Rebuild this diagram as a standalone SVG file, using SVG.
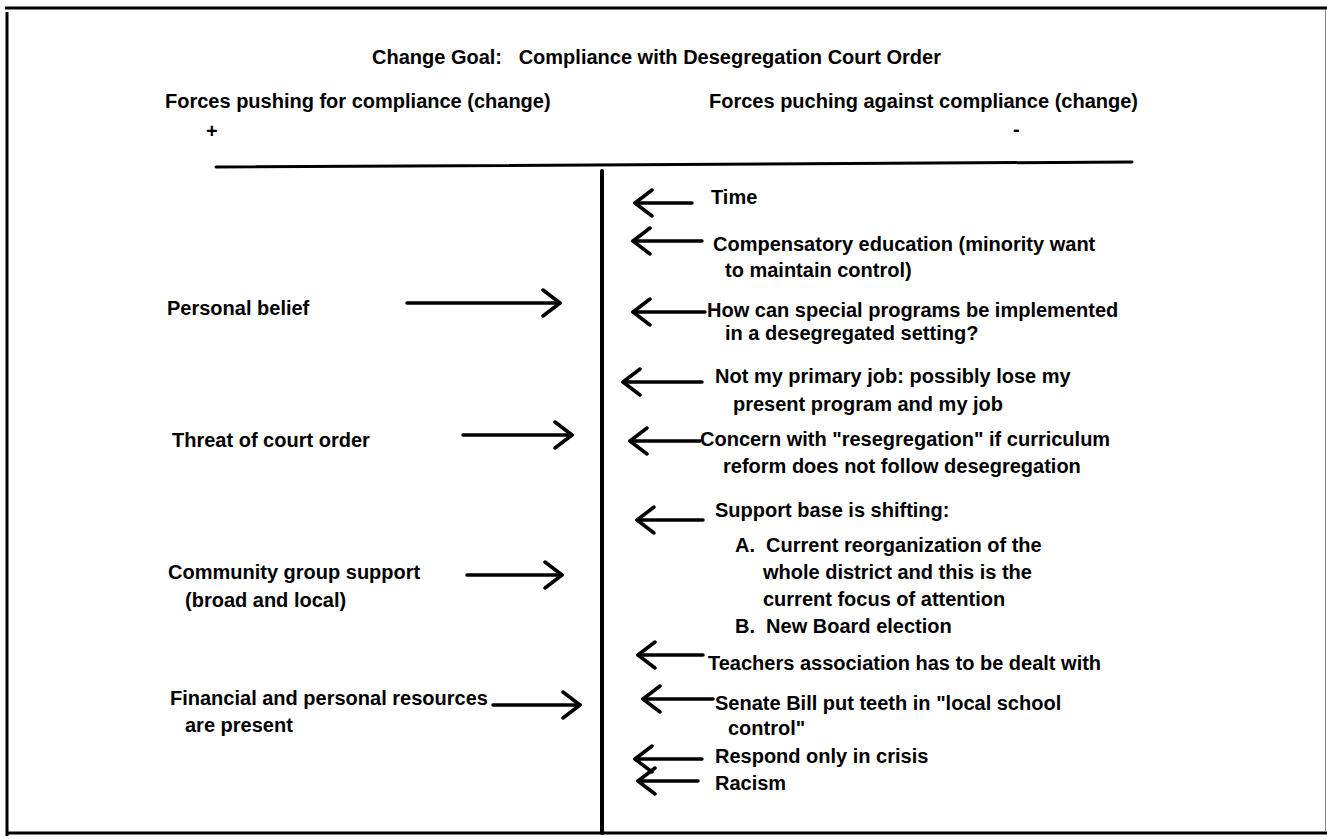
<svg xmlns="http://www.w3.org/2000/svg" width="1327" height="839" viewBox="0 0 1327 839">
<defs>
<style>
text{font-family:"Liberation Sans",Arial,sans-serif;font-weight:bold;font-size:20px;fill:#000;white-space:pre}
.hd{font-size:20px}
.frame{stroke:#000;stroke-width:3;fill:none}
.axis{stroke:#000;fill:none;stroke-linecap:round}
.arr{stroke:#000;stroke-width:3.5;fill:none;stroke-linecap:round;marker-end:url(#chev)}
</style>
<marker id="chev" viewBox="0 0 22 32" refX="20" refY="16" markerWidth="22" markerHeight="32" markerUnits="userSpaceOnUse" orient="auto">
<path d="M3,3 L20,16 L3,29" fill="none" stroke="#000" stroke-width="3.5" stroke-linecap="round" stroke-linejoin="round"/>
</marker>
</defs>
<rect width="1327" height="839" fill="#fff"/>
<g id="frame">
<line class="frame" x1="5" y1="8" x2="1327" y2="8"/>
<line class="frame" x1="7" y1="12" x2="7" y2="836"/>
<line class="frame" x1="7" y1="833" x2="1327" y2="833"/>
<line x1="1325.5" y1="10" x2="1325.5" y2="832" stroke="#888" stroke-width="1"/>
</g>
<g id="axes">
<line class="axis" x1="216" y1="167" x2="1132" y2="162" stroke-width="3"/>
<line class="axis" x1="602" y1="171" x2="602" y2="833" stroke-width="4"/>
</g>
<g id="title"><text x="372" y="64" xml:space="preserve">Change Goal:   Compliance with Desegregation Court Order</text></g>
<g id="header-for"><text class="hd" x="165" y="108">Forces pushing for compliance (change)</text><text x="206" y="138">+</text></g>
<g id="header-against"><text class="hd" x="709" y="108">Forces puching against compliance (change)</text><text x="1013" y="136">-</text></g>
<g id="f-personal"><text x="167" y="315">Personal belief</text></g>
<g id="f-threat"><text x="172" y="447">Threat of court order</text></g>
<g id="f-community"><text x="168" y="579">Community group support</text><text x="185" y="607">(broad and local)</text></g>
<g id="f-financial"><text x="170" y="705">Financial and personal resources</text><text x="185" y="732">are present</text></g>
<g id="a-time"><text x="711" y="204">Time</text></g>
<g id="a-comp"><text x="713" y="251">Compensatory education (minority want</text><text x="725" y="277">to maintain control)</text></g>
<g id="a-how"><text x="707" y="317">How can special programs be implemented</text><text x="725" y="340">in a desegregated setting?</text></g>
<g id="a-job"><text x="715" y="383">Not my primary job: possibly lose my</text><text x="733" y="411">present program and my job</text></g>
<g id="a-concern"><text x="700" y="446">Concern with "resegregation" if curriculum</text><text x="723" y="473">reform does not follow desegregation</text></g>
<g id="a-support"><text x="715" y="517">Support base is shifting:</text><text x="735" y="552" xml:space="preserve">A.  Current reorganization of the</text><text x="763" y="579">whole district and this is the</text><text x="763" y="606">current focus of attention</text><text x="735" y="633" xml:space="preserve">B.  New Board election</text></g>
<g id="a-teachers"><text x="708" y="670">Teachers association has to be dealt with</text></g>
<g id="a-senate"><text x="715" y="710">Senate Bill put teeth in "local school</text><text x="728" y="735">control"</text></g>
<g id="a-respond"><text x="715" y="763">Respond only in crisis</text></g>
<g id="a-racism"><text x="715" y="790">Racism</text></g>
<g id="connectors">
<line class="arr" x1="407" y1="303" x2="560" y2="303"/>
<line class="arr" x1="463" y1="435" x2="572" y2="435"/>
<line class="arr" x1="467" y1="575" x2="562" y2="575"/>
<line class="arr" x1="493" y1="705" x2="580" y2="705"/>
<line class="arr" x1="692" y1="203" x2="635" y2="203"/>
<line class="arr" x1="702" y1="241" x2="633" y2="241"/>
<line class="arr" x1="705" y1="312" x2="633" y2="312"/>
<line class="arr" x1="702" y1="382" x2="623" y2="382"/>
<line class="arr" x1="700" y1="441" x2="630" y2="441"/>
<line class="arr" x1="703" y1="520" x2="637" y2="520"/>
<line class="arr" x1="703" y1="655" x2="638" y2="655"/>
<line class="arr" x1="713" y1="699" x2="643" y2="699"/>
<line class="arr" x1="702" y1="759" x2="635" y2="759"/>
<line class="arr" x1="698" y1="781" x2="638" y2="781"/>
</g>
</svg>
